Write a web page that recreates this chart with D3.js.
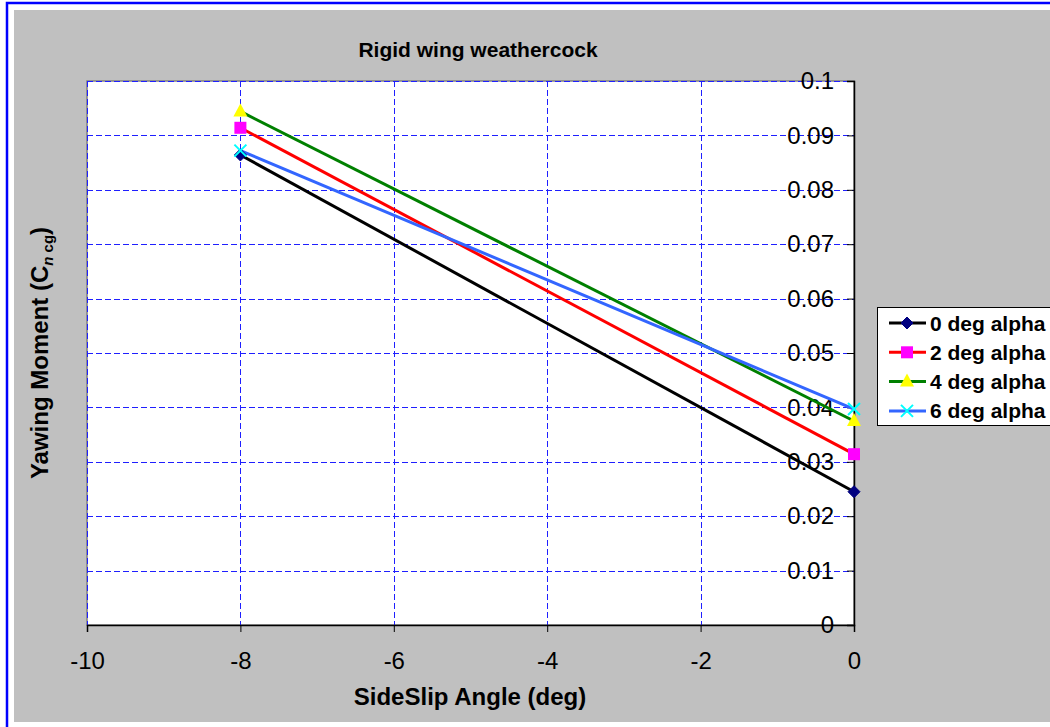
<!DOCTYPE html>
<html>
<head>
<meta charset="utf-8">
<script src="https://cdn.jsdelivr.net/npm/d3@7"></script>
<style>
  html, body { margin: 0; padding: 0; background: #ffffff; }
  svg { display: block; font-family: "Liberation Sans", Arial, sans-serif; }
</style>
</head>
<body>
<svg id="chart" width="1050" height="727"></svg>
<script>
// Sideslip angles (deg) where the yawing moment was measured
const sideslip = [-8, 0];
// Yawing moment coefficient Cn_cg for each angle of attack
const series = [
  { name: "0 deg alpha", values: [0.0864, 0.0245] },
  { name: "2 deg alpha", values: [0.0914, 0.0314] },
  { name: "4 deg alpha", values: [0.0944, 0.0375] },
  { name: "6 deg alpha", values: [0.0872, 0.0397] }
];
const xTicks = [-10, -8, -6, -4, -2, 0];
const yTicks = [0, 0.01, 0.02, 0.03, 0.04, 0.05, 0.06, 0.07, 0.08, 0.09, 0.1];

const lineColors = ["#000000", "#ff0000", "#008000", "#3366ff"];
const markerFill = ["#000080", "#ff00ff", "#ffff00", "#00ffff"];
const markerShape = ["diamond", "square", "triangle", "cross"];

const svg = d3.select("#chart");

// outer frame and grey chart area
svg.append("rect").attr("x", 7).attr("y", 3).attr("width", 1200).attr("height", 900)
  .attr("fill", "#ffffff").attr("stroke", "#0000ff").attr("stroke-width", 2.5);
svg.append("rect").attr("x", 14).attr("y", 10).attr("width", 1100).attr("height", 712)
  .attr("fill", "#c0c0c0");

const plot = { left: 87, right: 854, top: 81, bottom: 625 };

const x = d3.scaleLinear().domain([-10, 0]).range([plot.left, plot.right]);
const y = d3.scaleLinear().domain([0, 0.1]).range([plot.bottom, plot.top]);

// plot background
svg.append("rect").attr("x", plot.left).attr("y", plot.top)
  .attr("width", plot.right - plot.left).attr("height", plot.bottom - plot.top)
  .attr("fill", "#ffffff").attr("stroke", "#808080").attr("stroke-width", 1.5);

// dashed gridlines
const grid = svg.append("g").attr("stroke", "#1f1fff").attr("stroke-width", 1)
  .attr("stroke-dasharray", "6,3").attr("shape-rendering", "crispEdges");
grid.selectAll("line.h").data(yTicks.filter(d => d > 0)).join("line")
  .attr("x1", plot.left).attr("x2", plot.right)
  .attr("y1", d => Math.round(y(d)) + 0.5).attr("y2", d => Math.round(y(d)) + 0.5);
grid.selectAll("line.v").data(xTicks.filter(d => d < 0)).join("line")
  .attr("y1", plot.top).attr("y2", plot.bottom)
  .attr("x1", d => Math.round(x(d)) + 0.5).attr("x2", d => Math.round(x(d)) + 0.5);

// x axis along the bottom
const xAxis = d3.axisBottom(x).tickValues(xTicks).tickSize(7).tickPadding(20)
  .tickFormat(d => String(d));
const gx = svg.append("g").attr("transform", `translate(0,${plot.bottom})`).call(xAxis);
gx.select(".domain").attr("stroke", "#000").attr("stroke-width", 1.5);
gx.selectAll(".tick line").attr("stroke", "#000");
gx.selectAll(".tick text").attr("font-size", 24).attr("fill", "#000")
  .attr("font-family", "Liberation Sans, Arial, sans-serif");

// y axis on the right edge, labels drawn inside the plot
const yAxis = d3.axisLeft(y).tickValues(yTicks).tickSize(7).tickPadding(13)
  .tickFormat(d => String(+d.toFixed(2)));
const gy = svg.append("g").attr("transform", `translate(${plot.right},0)`).call(yAxis);
gy.select(".domain").attr("stroke", "#000").attr("stroke-width", 1.5);
gy.selectAll(".tick line").attr("stroke", "#000");
gy.selectAll(".tick text").attr("font-size", 24).attr("fill", "#000")
  .attr("font-family", "Liberation Sans, Arial, sans-serif");

// marker drawing
function drawMarker(g, shape, fill) {
  if (shape === "diamond") {
    g.append("path").attr("d", "M0,-6L6,0L0,6L-6,0Z").attr("fill", fill).attr("stroke", fill);
  } else if (shape === "square") {
    g.append("rect").attr("x", -6).attr("y", -6).attr("width", 12).attr("height", 12)
      .attr("fill", fill);
  } else if (shape === "triangle") {
    g.append("path").attr("d", "M0,-8L7,5L-7,5Z").attr("fill", fill);
  } else {
    g.append("path").attr("d", "M-6,-6L6,6M-6,6L6,-6").attr("stroke", fill)
      .attr("stroke-width", 2).attr("fill", "none");
  }
}

// series lines and markers
const line = d3.line().x((d, i) => x(sideslip[i])).y(d => y(d));
series.forEach((s, k) => {
  svg.append("path").datum(s.values).attr("d", line)
    .attr("fill", "none").attr("stroke", lineColors[k]).attr("stroke-width", 3);
});
series.forEach((s, k) => {
  s.values.forEach((v, i) => {
    const g = svg.append("g").attr("transform", `translate(${x(sideslip[i])},${y(v)})`);
    drawMarker(g, markerShape[k], markerFill[k]);
  });
});

// title
svg.append("text").attr("x", 478).attr("y", 57).attr("text-anchor", "middle")
  .attr("font-size", 21).attr("font-weight", "bold").text("Rigid wing weathercock");

// x axis title
svg.append("text").attr("x", 470).attr("y", 705).attr("text-anchor", "middle")
  .attr("font-size", 24).attr("font-weight", "bold").text("SideSlip Angle (deg)");

// y axis title with subscript
const yt = svg.append("text").attr("transform", "translate(48,353) rotate(-90)")
  .attr("text-anchor", "middle").attr("font-size", 24).attr("font-weight", "bold");
yt.append("tspan").text("Yawing Moment (C");
yt.append("tspan").attr("font-size", 15).attr("dy", 5).attr("font-style", "italic").text("n");
yt.append("tspan").attr("font-size", 15).text(" cg");
yt.append("tspan").attr("dy", -5).text(")");

// legend
const legend = svg.append("g");
legend.append("rect").attr("x", 877.5).attr("y", 307.5).attr("width", 300).attr("height", 118)
  .attr("fill", "#ffffff").attr("stroke", "#000").attr("stroke-width", 1);
series.forEach((s, k) => {
  const ly = 323 + k * 29.3;
  legend.append("line").attr("x1", 889).attr("x2", 926).attr("y1", ly).attr("y2", ly)
    .attr("stroke", lineColors[k]).attr("stroke-width", 3);
  drawMarker(legend.append("g").attr("transform", `translate(907,${ly})`), markerShape[k], markerFill[k]);
  legend.append("text").attr("x", 930).attr("y", ly + 7.5).attr("font-size", 21)
    .attr("font-weight", "bold").text(s.name);
});
</script>
</body>
</html>
